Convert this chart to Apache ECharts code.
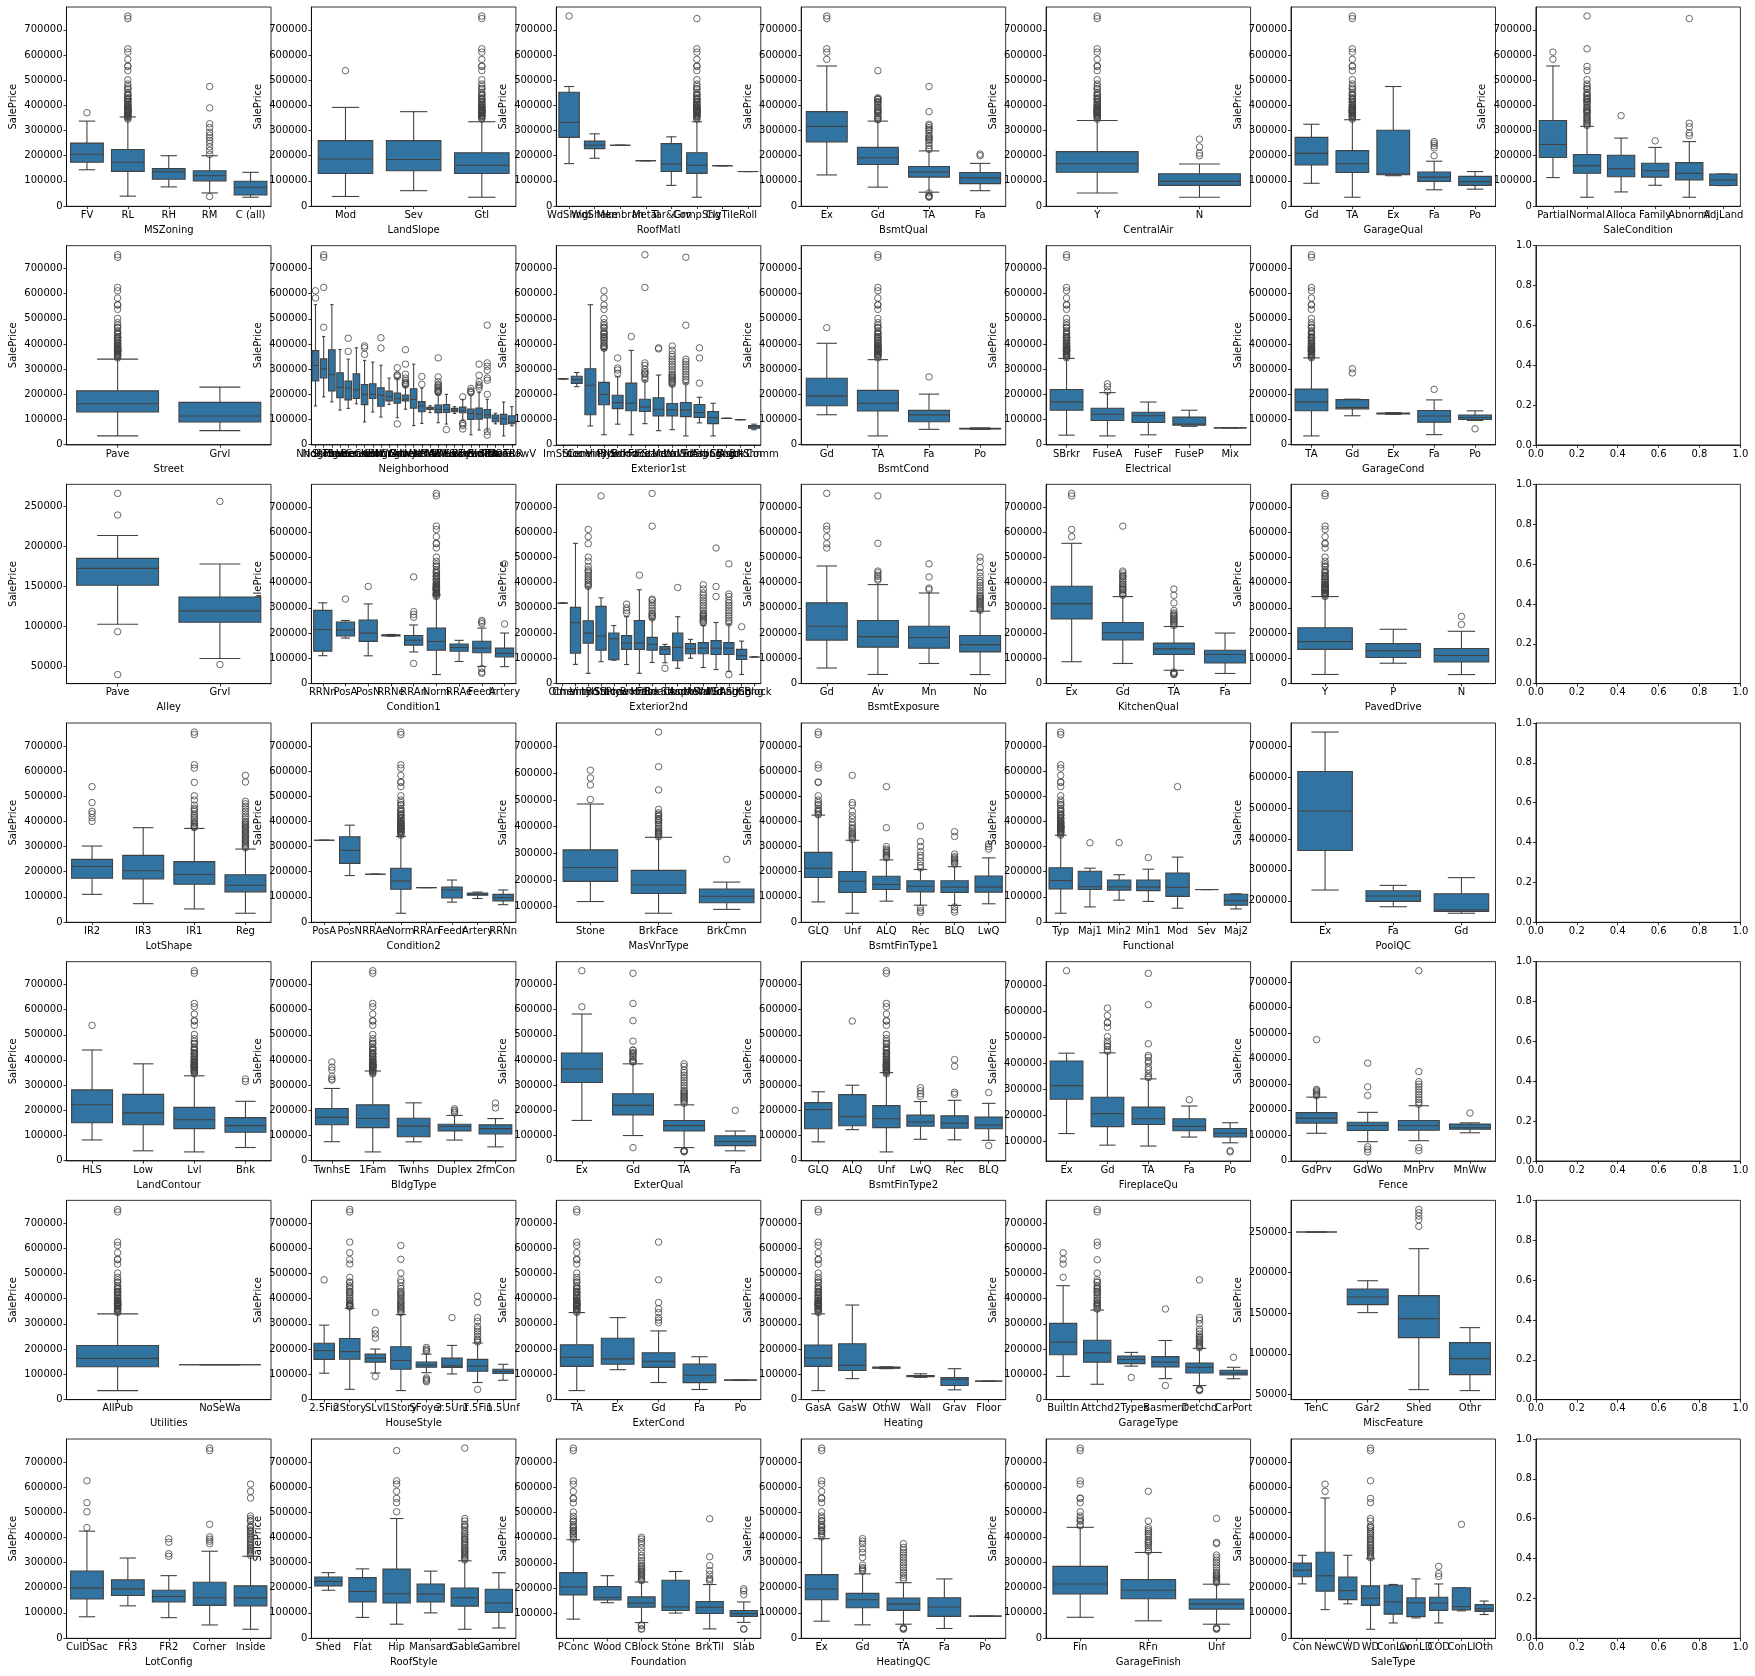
<!DOCTYPE html>
<html><head><meta charset="utf-8">
<script src="https://cdn.jsdelivr.net/npm/echarts@6/dist/echarts.min.js"></script>
<style>html,body{margin:0;padding:0;background:#fff}#c{width:1755px;height:1676px}</style>
</head><body><div id="c"></div>
<script>
// ---------- shared value lists ----------
const TOP_MID = [625000,611657,582933,556581,555000,538000,501837,485000,475000,466500,465000,451950,446261,440000,438780,430000,426000,424870,423000,415298,412500,410000,402861,402000,395192,395000,392500,392000,386250,385000,383970,381000,380000,378500,377500,375000,374000,372500,370967,369900,367294,363000,360000,359100,356383,354000,350000,345000];

// ---------- tick label lists ----------
const TICKS_0_700K = [0,100000,200000,300000,400000,500000,600000,700000];
const TICKS_100K_700K = [100000,200000,300000,400000,500000,600000,700000];
const TICKS_200K_700K = [200000,300000,400000,500000,600000,700000];
const TICKS_50K_250K = [50000,100000,150000,200000,250000];
const TICKS_UNIT = [0,0.2,0.4,0.6,0.8,1.0];

// ---------- row 1 ----------
const MSZoning_cats = ["FV","RL","RH","RM","C (all)"];
const MSZoning_box = [[144152,174000,205950,250000,337500],[39300,137700,174000,224700,354000],[76000,106150,136500,148608,200000],[52000,100000,120500,140000,200000],[34900,43998,74700,98332,133900]];
const MSZoning_out = [[370878],[755000,745000,...TOP_MID],[],[475000,390000,327000,312000,293000,282000,272000,261000,250000,235000,221000,205000,37900],[]];

const LandSlope_cats = ["Mod","Sev","Gtl"];
const LandSlope_box = [[37900,129000,186700,260000,392000],[61000,140000,185000,260000,375000],[34900,129500,161875,212000,335000]];
const LandSlope_out = [[538000],[],[755000,745000,...TOP_MID]];

const RoofMatl_cats = ["WdShngl","WdShake","Membran","Metal","Tar&Grv","CompShg","ClyTile","Roll"];
const RoofMatl_box = [[168500,273000,332500,451950,475000],[190000,228000,242000,258000,287000],[241500,241500,241500,241500,241500],[180000,180000,180000,180000,180000],[82000,137000,167000,248000,274970],[34900,129600,162000,212000,335000],[160000,160000,160000,160000,160000],[137000,137000,137000,137000,137000]];
const RoofMatl_out = [[755000],[],[],[],[],[745000,...TOP_MID],[],[]];

const BsmtQual_cats = ["Ex","Gd","TA","Fa"];
const BsmtQual_box = [[123500,255000,316750,375000,556581],[75000,165000,192070,233000,337500],[55000,115000,135500,157000,219000],[61000,89000,112000,133000,169500]];
const BsmtQual_out = [[582933,611657,625000,745000,755000],[538000,430000,426000,424870,423000,415298,412500,410000,402000,395000,392000,385000,381000,378500,375000,372500,367294,360000,354000,350000,345000,342643],[475000,375000,325000,319000,311500,305000,300000,290000,280000,275000,270000,265000,260000,250000,240000,230000,225000,34900,37900,39300,40000,52000],[200000,206300]];

const CentralAir_cats = ["Y","N"];
const CentralAir_box = [[52000,134000,168000,216000,340000],[34900,82000,98000,128500,167000]];
const CentralAir_out = [[755000,745000,...TOP_MID],[200000,210000,235000,265979]];

const GarageQual_cats = ["Gd","TA","Ex","Fa","Po"];
const GarageQual_box = [[90350,163000,209115,273000,325000],[34900,133000,168000,220000,343000],[120500,124000,127500,301250,475000],[64500,98000,115000,135000,178000],[67000,82000,97000,118000,137000]];
const GarageQual_out = [[],[755000,745000,...TOP_MID],[],[200000,231000,240000,249000,256000],[]];

const SaleCondition_cats = ["Partial","Normal","Alloca","Family","Abnorml","AdjLand"];
const SaleCondition_box = [[113000,193000,244600,339750,556581],[34900,130000,160000,205000,316600],[55993,116183,148145,202043,270000],[82500,115000,140500,170000,233000],[34900,104000,130000,172500,256000],[81000,81750,104000,127125,127500]];
const SaleCondition_out = [[582933,611657],[755000,625000,555000,538000,501837,485000,475000,466500,465000,451950,446261,440000,438780,430000,426000,424870,423000,415298,412500,410000,402000,395000,392000,385000,381000,378500,375000,372500,367294,360000,354000,350000,345000,340000,335000,330000,325000,320000],[359100],[259000],[745000,328900,314813,290000,280000],[]];

// ---------- row 2 ----------
const Street_cats = ["Pave","Grvl"];
const Street_box = [[34900,130000,163000,214000,340000],[55993,90000,114250,168000,228950]];
const Street_out = [[755000,745000,...TOP_MID],[]];

const Neighborhood_cats = ["NridgHt","NoRidge","StoneBr","Timber","Somerst","Veenker","Crawfor","ClearCr","CollgCr","Blmngtn","NWAmes","Gilbert","SawyerW","Mitchel","NPkVill","NAmes","SWISU","Blueste","Sawyer","BrkSide","Edwards","OldTown","BrDale","IDOTRR","MeadowV"];
const Neighborhood_box = [[154000,253000,315000,374000,556581],[190000,265000,301500,341000,430000],[170000,213500,278000,377426,556581],[137500,186900,228475,286000,378500],[144152,177975,225500,252919,340000],[162500,184250,218000,282000,385000],[90350,159250,200624,239000,335000],[130000,183750,200250,242225,328000],[110000,152958,197200,225725,315750],[159895,174000,191000,213490,264561],[107500,165150,182900,205000,263000],[141000,174000,181000,197200,230000],[76000,145500,179900,222500,320000],[84500,131000,153500,171000,225000],[127500,140000,146000,148500,155000],[87500,127500,140000,158000,200000],[82000,128000,139500,160000,200000],[124000,130750,137500,144250,151000],[96500,127250,135000,149462,179900],[39300,100500,124300,141175,196000],[58500,101500,121750,145225,207000],[55000,105900,119000,140000,180000],[83000,91000,106000,118000,125000],[34900,81000,103000,120500,169500],[75000,83500,88000,115000,151400]];
const Neighborhood_out = [[582933,611657],[466500,625000,745000,755000],[],[],[370967,423000],[],[392500,385000,359100],[],[383970,424870],[],[306000,278000,275000,269500,82500],[377500,320000,280000,265000,255000,248000,244000,240000,237000],[],[240000,271000],[],[345000,269500,250000,240000,236000,230000,225000,220000,215000,212000,210000,207000],[60000],[],[190000,62383,76000,82500,87000],[207000,210000,214000,223500],[320000,276000,250000,239000,233000,224000],[475000,325000,311500,295000,265000,256000,200000,52500,37900],[],[],[]];

const Exterior1st_cats = ["ImStucc","Stone","CemntBd","VinylSd","Plywood","BrkFace","HdBoard","Stucco","MetalSd","Wd Sdng","WdShing","AsbShng","CBlock","AsphShn","BrkComm"];
const Exterior1st_box = [[262000,262000,262000,262000,262000],[231000,244000,258500,272000,287000],[75000,119500,236500,302000,556581],[40000,159000,200000,248000,378500],[82000,143750,167450,196750,270000],[40000,135000,165000,245000,375000],[84000,132500,149900,181000,254000],[56000,115000,141000,187000,277000],[60000,115000,139000,164000,236000],[35311,112000,138000,168000,245000],[87000,109000,128000,160000,189000],[35311,84000,108000,132000,165000],[105000,105000,105000,105000,105000],[100000,100000,100000,100000,100000],[60000,65500,71000,76500,82000]];
const Exterior1st_out = [[],[],[],[383970,385000,392000,395000,402000,410000,415298,423000,426000,430000,438780,440000,446261,451950,465000,466500,475000,485000,501837,538000,555000,582933,611657],[345000,305000,297000,284000],[430000],[755000,625000,325000,315000,300000,290000,285000,280000,270000,260000],[381000,385000],[240000,245000,250000,255000,260000,265000,270000,275000,280000,290000,300000,310000,320000,330000,340000,350000,360000,375000,392500],[250000,260000,270000,280000,290000,300000,310000,320000,330000,340000,475000,745000],[245000,345000,385000],[],[],[],[]];

const BsmtCond_cats = ["Gd","TA","Fa","Po"];
const BsmtCond_box = [[119000,155000,193879,264000,403000],[34900,134000,165000,216000,338000],[61000,91000,118500,136500,201000],[61000,62500,64000,65500,67000]];
const BsmtCond_out = [[465000],[755000,745000,...TOP_MID],[269500],[]];

const Electrical_cats = ["SBrkr","FuseA","FuseF","FuseP","Mix"];
const Electrical_box = [[37900,137000,170000,219500,343000],[34900,96000,121250,145000,207000],[39300,88000,115000,129000,169500],[73000,77750,82500,109750,137000],[67000,67000,67000,67000,67000]];
const Electrical_out = [[755000,745000,...TOP_MID],[242000,230000,212000],[],[],[]];

const GarageCond_cats = ["TA","Gd","Ex","Fa","Po"];
const GarageCond_box = [[34900,135000,170000,221000,345000],[115000,142500,148000,179000,181000],[120500,122250,124000,125750,127500],[40000,89500,114000,136000,178000],[96500,100000,108000,118000,134500]];
const GarageCond_out = [[755000,745000,...TOP_MID],[285000,302000],[],[220000],[63000]];

// ---------- row 3 ----------
const Alley_cats = ["Pave","Grvl"];
const Alley_box = [[102776,151500,172500,185000,213500],[60000,105300,119500,136750,178000]];
const Alley_out = [[265979,239000,93500,40000],[256000,52500]];

const Condition1_cats = ["RRNn","PosA","PosN","RRNe","RRAn","Norm","RRAe","Feedr","Artery"];
const Condition1_box = [[110000,128000,214000,290000,320000],[180000,188000,212500,244000,250000],[109500,167000,200000,252000,315750],[187000,188500,190750,193000,194500],[125000,152000,171495,190000,232000],[34900,132000,166500,220000,352000],[87000,127500,142500,156500,171000],[67000,121600,140000,167500,219500],[66500,105000,119550,140000,200000]];
const Condition1_out = [[],[335000],[385000],[],[423000,285000,274000,263000,79000],[755000,745000,...TOP_MID],[],[250000,244000,237000,59000,45000,40000],[475000,236000]];

const Exterior2nd_cats = ["Other","CmentBd","VinylSd","ImStucc","Stone","Plywood","BrkFace","HdBoard","Brk Cmn","Stucco","AsphShn","MetalSd","Wd Shng","Wd Sdng","AsbShng","CBlock"];
const Exterior2nd_box = [[319000,319000,319000,319000,319000],[75500,120000,241000,302000,556581],[40000,160000,200141,249000,383000],[86000,132000,187600,306000,340000],[92000,94000,178000,200000,230000],[75000,135000,160000,190000,265000],[40000,135000,160000,250000,372000],[83000,132000,155000,183000,256000],[82000,115000,136000,146000,155000],[60000,90000,143000,200000,265000],[100000,118000,138000,158000,175000],[63000,118000,140000,162000,230000],[55000,115000,140000,170000,242000],[48000,115000,140000,162000,235000],[35311,95000,110000,135000,168000],[105000,105000,105000,105000,105000]];
const Exterior2nd_out = [[],[],[385000,390000,395000,402000,410000,415000,423000,430000,438780,446261,451950,465000,485000,501837,555000,582933,611657],[745000],[],[280000,290000,300000,315000],[430000],[260000,265000,270000,275000,280000,290000,300000,310000,320000,330000,335000,625000,755000],[60000],[381000],[],[240000,245000,250000,255000,260000,265000,270000,275000,280000,290000,300000,310000,320000,330000,340000,350000,360000,375000,392000],[345000,385000,538000],[240000,250000,260000,270000,280000,290000,300000,310000,320000,330000,345000,355000,475000,35000],[225000],[]];

const BsmtExposure_cats = ["Gd","Av","Mn","No"];
const BsmtExposure_box = [[61000,172000,226975,320000,466500],[35311,144000,185850,250000,392500],[79000,140000,182450,227000,359100],[34900,125000,154000,190000,287000]];
const BsmtExposure_out = [[538000,555000,582933,611657,625000,755000],[410000,415298,424870,430000,440000,446261,556581,745000],[372500,378500,423000,475000],[290000,295000,300000,305000,310000,315000,320000,325000,330000,335000,340000,345000,350000,360000,370000,380000,390000,400000,410000,425000,440000,460000,485000,501837]];

const KitchenQual_cats = ["Ex","Gd","TA","Fa"];
const KitchenQual_box = [[86000,256000,316750,386250,556581],[79000,172500,201400,242000,345000],[52000,115000,137000,160000,226000],[39300,81000,115000,131500,200000]];
const KitchenQual_out = [[582933,611657,745000,755000],[350000,354000,360000,367294,372500,375000,380000,385000,392000,395000,402000,410000,415298,423000,426000,430000,438780,446261,625000],[230000,235000,240000,245000,250000,255000,260000,265000,270000,275000,280000,290000,320000,350000,375000,34900,37900,39300,40000,45000],[]];

const PavedDrive_cats = ["Y","P","N"];
const PavedDrive_box = [[35311,135000,166000,221000,345000],[80000,103000,130000,158000,215000],[34900,85000,111000,138500,207000]];
const PavedDrive_out = [[755000,745000,...TOP_MID],[],[234000,265979]];

// ---------- row 4 ----------
const LotShape_cats = ["IR2","IR3","IR1","Reg"];
const LotShape_box = [[110000,174000,221000,249000,302000],[73000,171000,203570,265000,375000],[52000,150000,189000,240000,372000],[34900,120000,146000,188000,290000]];
const LotShape_out = [[538000,475000,440000,430000,415000,400000],[],[375000,378500,380000,385000,392000,395000,402000,410000,415298,423000,430000,440000,446261,451950,465000,485000,501837,555000,611657,625000,745000,755000],[295000,300000,305000,310000,315000,320000,325000,330000,335000,340000,345000,350000,355000,360000,365000,370000,375000,380000,385000,390000,395000,400000,410000,420000,430000,440000,450000,460000,470000,480000,556581,582933]];

const Condition2_cats = ["PosA","PosN","RRAe","Norm","RRAn","Feedr","Artery","RRNn"];
const Condition2_box = [[325000,325000,325000,325000,325000],[184750,233000,284875,339000,385000],[190000,190000,190000,190000,190000],[34900,130000,163500,214000,340000],[136905,136905,136905,136905,136905],[79000,95750,127500,139500,167000],[93500,106250,110000,115500,119000],[69000,84000,96750,110000,127500]];
const Condition2_out = [[],[],[],[755000,745000,...TOP_MID],[],[],[],[]];

const MasVnrType_cats = ["Stone","BrkFace","BrkCmn"];
const MasVnrType_box = [[119000,194650,246839,312779,485000],[75000,149300,181000,236000,360000],[89500,114250,139000,166000,192000]];
const MasVnrType_out = [[501837,556581,582933,611657],[361919,367294,372500,375000,378500,381000,385000,392000,395000,402000,410000,415298,423000,426000,430000,438780,440000,446261,451950,465000,538000,625000,755000],[277000]];

const BsmtFinType1_cats = ["GLQ","Unf","ALQ","Rec","BLQ","LwQ"];
const BsmtFinType1_box = [[80000,177000,213750,277000,424870],[34900,118000,161750,201000,325000],[83000,129000,149250,182000,247000],[67000,120000,142000,164000,209000],[66000,118000,139100,164000,220000],[72500,119000,139000,183000,255000]];
const BsmtFinType1_out = [[426000,430000,438780,440000,446261,451950,465000,466500,475000,485000,501837,555000,556581,611657,625000,745000,755000],[328000,335000,340000,345000,350000,355000,360000,370000,375000,385000,395000,410000,423000,440000,465000,475000,582933],[255000,260000,265000,270000,275000,280000,285000,290000,299800,375000,538000],[215000,225000,240000,255000,265000,280000,300000,320000,381000,55000,45000,37900],[230000,235000,240000,245000,250000,255000,260000,270000,340000,359100,60000,48000,39300],[290000,300000,310000]];

const Functional_cats = ["Typ","Maj1","Min2","Min1","Mod","Sev","Maj2"];
const Functional_box = [[34900,131000,165000,216000,345000],[60000,129000,140750,202000,214000],[87000,127000,140000,167000,188000],[82000,125000,139000,167000,210000],[55000,102000,137900,195000,258000],[129000,129000,129000,129000,129000],[52000,67000,85000,110500,112000]];
const Functional_out = [[755000,745000,...TOP_MID],[315000],[315500],[256000],[538000],[],[]];

const PoolQC_cats = ["Ex","Fa","Gd"];
const PoolQC_box = [[235000,362500,490000,617500,745000],[181000,198250,215500,232750,250000],[160000,165500,171000,222985,274970]];
const PoolQC_out = [[],[],[]];

// ---------- row 5 ----------
const LandContour_cats = ["HLS","Low","Lvl","Bnk"];
const LandContour_box = [[82500,150750,222250,281347,440000],[39300,143000,190000,263750,385000],[34900,127500,162900,212000,337500],[52500,113000,139400,171250,236000]];
const LandContour_out = [[538000],[],[755000,745000,...TOP_MID],[315000,325000]];

const BldgType_cats = ["TwnhsE","1Fam","Twnhs","Duplex","2fmCon"];
const BldgType_box = [[75500,143187,172200,207375,287090],[34900,131475,167900,222000,356383],[75000,95000,137500,168750,230000],[82000,118500,135980,145000,180000],[55000,106000,127500,142500,167500]];
const BldgType_out = [[320000,325000,335000,360000,372000,392500],[755000,745000,...TOP_MID],[],[190000,194000,200000,206300],[210000,228950]];

const ExterQual_cats = ["Ex","Gd","TA","Fa"];
const ExterQual_box = [[160000,311000,364606,428000,582933],[100000,182000,220000,266000,385000],[52000,118000,139450,159500,222000],[39300,60000,76500,99000,118000]];
const ExterQual_out = [[611657,755000],[392000,394432,395000,402000,410000,415298,423000,426000,430000,438780,440000,475000,556581,625000,745000,52000],[228000,235000,240000,245000,250000,255000,260000,265000,270000,275000,280000,290000,300000,310000,320000,330000,340000,350000,360000,375000,385000,34900,37900,39300,40000],[200000]];

const BsmtFinType2_cats = ["GLQ","ALQ","Unf","LwQ","Rec","BLQ"];
const BsmtFinType2_box = [[75000,127000,203125,231000,274000],[123500,139000,174900,262500,300000],[34900,131500,167000,219000,350000],[85000,137000,154000,181000,235000],[83000,129000,148750,178000,240000],[81000,127000,141500,173000,228000]];
const BsmtFinType2_out = [[],[555000],[755000,745000,...TOP_MID],[256000,266000,278000,290000],[264000,272000,375000,402000],[271000,60000]];

const FireplaceQu_cats = ["Ex","Gd","TA","Fa","Po"];
const FireplaceQu_box = [[130500,262000,314250,409000,438780],[86000,157000,206950,270000,440000],[82500,165000,187500,232000,340000],[117000,141000,158000,187500,236000],[95000,117000,131500,150000,172000]];
const FireplaceQu_out = [[755000],[446261,451950,465000,466500,475000,485000,501837,538000,555000,556581,582933,611657],[345000,350000,360000,375000,385000,402000,410000,423000,430000,475000,625000,745000],[260000],[60000,64500]];

const Fence_cats = ["GdPrv","GdWo","MnPrv","MnWw"];
const Fence_box = [[108000,148000,167500,189000,249700],[75000,119000,138750,151000,190000],[79000,120000,137450,158000,216000],[110000,124000,130000,144000,149000]];
const Fence_out = [[475000,255000,260000,265000,270000,275000,280000],[383000,290000,256000,55000,45000,35000],[745000,350000,310000,300000,290000,280000,270000,260000,250000,240000,230000,222000,52000,40000],[187500]];

// ---------- row 6 ----------
const Utilities_cats = ["AllPub","NoSeWa"];
const Utilities_box = [[34900,129950,163000,214000,340000],[137500,137500,137500,137500,137500]];
const Utilities_out = [[755000,745000,...TOP_MID],[]];

const HouseStyle_cats = ["2.5Fin","2Story","SLvl","1Story","SFoyer","2.5Unf","1.5Fin","1.5Unf"];
const HouseStyle_box = [[104000,159000,194000,223000,295000],[40000,159500,190000,242000,361919],[105000,148000,164500,180000,200000],[34900,120000,154750,209300,337000],[106000,127500,135960,148375,180000],[101000,127000,133900,164000,214500],[67000,112000,132000,159000,224000],[76000,103000,111250,120000,139400]];
const HouseStyle_out = [[475000],[367294,370967,372500,375000,378500,380000,385000,392000,395000,402000,410000,415298,423000,426000,430000,438780,446261,451950,465000,466500,485000,538000,555000,582933,625000,745000,755000],[345000,275000,260000,244000,91000],[345000,350000,355000,360000,365000,370000,375000,380000,385000,390000,395000,402000,410000,415000,420000,425000,430000,440000,450000,465000,475000,501837,556581,611657],[206300,200000,195000,190000,85500,80000,75000,70000],[325000],[228000,235000,240000,250000,260000,270000,280000,290000,310000,325000,385000,410000,39300],[]];

const ExterCond_cats = ["TA","Ex","Gd","Fa","Po"];
const ExterCond_box = [[34900,131000,167370,217000,345000],[118000,139500,161000,243000,325000],[67000,127000,151500,185000,272000],[39300,66500,95750,140000,169500],[76500,76500,76500,76500,76500]];
const ExterCond_out = [[755000,745000,...TOP_MID],[],[305000,315000,325000,345000,360000,385000,475000,625000],[],[]];

const Heating_cats = ["GasA","GasW","OthW","Wall","Grav","Floor"];
const Heating_box = [[34900,131000,164500,216000,340000],[82500,114500,134950,221000,375000],[122000,123500,125750,128000,129500],[87500,90500,91500,95000,101800],[37900,55000,79500,87000,122000],[72500,72500,72500,72500,72500]];
const Heating_out = [[755000,745000,...TOP_MID],[],[],[],[],[]];

const GarageType_cats = ["BuiltIn","Attchd","2Types","Basment","Detchd","CarPort"];
const GarageType_box = [[91000,177500,227500,302000,451950],[60000,148000,185000,235000,355000],[132000,142000,159000,172000,186700],[82500,129000,148000,170000,234000],[55000,105000,127500,144000,202500],[82000,97000,104000,116000,127500]];
const GarageType_out = [[485000,538000,556581,582933],[359100,360000,367294,372500,375000,378500,380000,385000,392000,395000,402000,410000,415298,423000,426000,430000,438780,440000,446261,451950,465000,466500,475000,501837,555000,611657,625000,745000,755000],[87000],[359100,55000],[205000,210000,215000,220000,225000,230000,235000,240000,245000,250000,260000,270000,280000,300000,315000,325000,475000,34900,37900,39300,40000],[167000]];

const MiscFeature_cats = ["TenC","Gar2","Shed","Othr"];
const MiscFeature_box = [[250000,250000,250000,250000,250000],[150700,160500,170000,179800,190000],[55800,119900,143300,171600,229500],[54600,74300,94000,113700,132200]];
const MiscFeature_out = [[],[],[277900,273800,269700,265200,257000],[]];

// ---------- row 7 ----------
const LotConfig_cats = ["CulDSac","FR3","FR2","Corner","Inside"];
const LotConfig_box = [[84500,155000,199262,266500,424870],[128000,169000,195450,231000,318000],[81000,143000,165000,190000,248000],[52000,130000,160000,222000,345000],[34900,128000,159697,207500,325000]];
const LotConfig_out = [[438780,501837,538000,625000],[],[394617,381000,335000,325000],[755000,745000,451950,402000,392500,385000,375000],[328000,335000,340000,345000,350000,355000,360000,367294,372500,378500,385000,392000,395000,402000,410000,415298,423000,426000,430000,438780,440000,446261,465000,466500,475000,485000,556581,582933,611657]];

const RoofStyle_cats = ["Shed","Flat","Hip","Mansard","Gable","Gambrel"];
const RoofStyle_box = [[190000,207500,225000,242500,260000],[82000,143000,185000,240000,274970],[55000,139000,176000,274000,475000],[100000,143000,175000,215000,265979],[34900,127000,160000,199000,307000],[40000,102000,139000,194000,259500]];
const RoofStyle_out = [[],[],[501837,538000,555000,582933,611657,625000,745000],[],[310000,315000,320000,325000,330000,335000,340000,345000,350000,355000,360000,367294,372500,378500,385000,392000,395000,402000,410000,415298,423000,430000,440000,446261,451950,465000,475000,755000],[]];

const Foundation_cats = ["PConc","Wood","CBlock","Stone","BrkTil","Slab"];
const Foundation_box = [[78000,174000,205000,262000,392500],[143000,153500,164000,207000,250000],[64500,125000,141500,166000,225000],[102000,112000,126500,232000,266500],[39300,100500,125250,148000,215000],[65000,89000,100000,112000,146000]];
const Foundation_out = [[395000,402000,410000,415298,423000,426000,430000,438780,440000,446261,451950,465000,466500,475000,485000,501837,538000,555000,556581,582933,611657,625000,745000,755000],[],[230000,235000,240000,245000,250000,255000,260000,265000,270000,275000,280000,285000,290000,300000,310000,320000,330000,345000,360000,375000,385000,395000,402000,37900,40000,52000,55000],[],[228000,235000,240000,255000,270000,290000,325000,475000],[175000,190000,198500,40000,37900]];

const HeatingQC_cats = ["Ex","Gd","TA","Fa","Po"];
const HeatingQC_box = [[67000,152000,194700,252000,395000],[52500,120500,152000,177700,255000],[55000,110000,135000,159000,220000],[37900,86000,123500,160000,235000],[87000,87000,87000,87000,87000]];
const HeatingQC_out = [[402000,410000,415298,423000,426000,430000,438780,440000,446261,451950,465000,466500,475000,485000,501837,538000,555000,556581,582933,611657,625000,745000,755000],[265000,270000,275000,280000,290000,320000,340000,355000,375000,385000,395000],[232000,240000,250000,260000,270000,280000,290000,300000,310000,320000,330000,340000,350000,360000,375000,34900,37900,39300,40000],[],[]];

const GarageFinish_cats = ["Fin","RFn","Unf"];
const GarageFinish_box = [[82500,175000,215000,285000,440000],[68400,156000,190000,232000,340000],[55000,115000,135000,155000,214000]];
const GarageFinish_out = [[446261,451950,465000,466500,475000,485000,501837,538000,555000,556581,611657,625000,745000,755000],[345000,350000,360000,367294,375000,380000,385000,392000,402000,410000,415298,423000,430000,438780,465000,582933],[220000,225000,230000,235000,240000,245000,250000,255000,260000,270000,280000,290000,300000,310000,320000,330000,375000,380000,475000,34900,37900,39300,40000]];

const SaleType_cats = ["Con","New","CWD","WD","ConLw","ConLD","COD","ConLI","Oth"];
const SaleType_box = [[215200,243625,269600,297600,328900],[113000,186500,247453,341000,556581],[136000,152500,188750,242500,328900],[34900,130000,158000,207500,315000],[60000,95000,144000,210000,213000],[79900,85000,140000,160000,235000],[60000,110000,139000,162000,215000],[108000,112000,125000,200000,200000],[93500,106000,116050,133000,147000]];
const SaleType_out = [[],[582933,611657],[],[319000,325000,330000,335000,340000,345000,350000,355000,360000,367294,372500,378500,385000,392000,395000,402000,410000,415298,423000,430000,438780,440000,446261,465000,475000,538000,555000,625000,745000,755000],[],[],[245000,256000,285000],[451950],[]];

// ---------- panel layout (row-major) ----------
const LAYOUT = [
  ["MSZoning","LandSlope","RoofMatl","BsmtQual","CentralAir","GarageQual","SaleCondition"],
  ["Street","Neighborhood","Exterior1st","BsmtCond","Electrical","GarageCond",null],
  ["Alley","Condition1","Exterior2nd","BsmtExposure","KitchenQual","PavedDrive",null],
  ["LotShape","Condition2","MasVnrType","BsmtFinType1","Functional","PoolQC",null],
  ["LandContour","BldgType","ExterQual","BsmtFinType2","FireplaceQu","Fence",null],
  ["Utilities","HouseStyle","ExterCond","Heating","GarageType","MiscFeature",null],
  ["LotConfig","RoofStyle","Foundation","HeatingQC","GarageFinish","SaleType",null]
];

const FEATURES = {
  MSZoning:[MSZoning_cats,MSZoning_box,MSZoning_out,TICKS_0_700K],
  LandSlope:[LandSlope_cats,LandSlope_box,LandSlope_out,TICKS_0_700K],
  RoofMatl:[RoofMatl_cats,RoofMatl_box,RoofMatl_out,TICKS_0_700K],
  BsmtQual:[BsmtQual_cats,BsmtQual_box,BsmtQual_out,TICKS_0_700K],
  CentralAir:[CentralAir_cats,CentralAir_box,CentralAir_out,TICKS_0_700K],
  GarageQual:[GarageQual_cats,GarageQual_box,GarageQual_out,TICKS_0_700K],
  SaleCondition:[SaleCondition_cats,SaleCondition_box,SaleCondition_out,TICKS_0_700K],
  Street:[Street_cats,Street_box,Street_out,TICKS_0_700K],
  Neighborhood:[Neighborhood_cats,Neighborhood_box,Neighborhood_out,TICKS_0_700K],
  Exterior1st:[Exterior1st_cats,Exterior1st_box,Exterior1st_out,TICKS_0_700K],
  BsmtCond:[BsmtCond_cats,BsmtCond_box,BsmtCond_out,TICKS_0_700K],
  Electrical:[Electrical_cats,Electrical_box,Electrical_out,TICKS_0_700K],
  GarageCond:[GarageCond_cats,GarageCond_box,GarageCond_out,TICKS_0_700K],
  Alley:[Alley_cats,Alley_box,Alley_out,TICKS_50K_250K],
  Condition1:[Condition1_cats,Condition1_box,Condition1_out,TICKS_0_700K],
  Exterior2nd:[Exterior2nd_cats,Exterior2nd_box,Exterior2nd_out,TICKS_0_700K],
  BsmtExposure:[BsmtExposure_cats,BsmtExposure_box,BsmtExposure_out,TICKS_0_700K],
  KitchenQual:[KitchenQual_cats,KitchenQual_box,KitchenQual_out,TICKS_0_700K],
  PavedDrive:[PavedDrive_cats,PavedDrive_box,PavedDrive_out,TICKS_0_700K],
  LotShape:[LotShape_cats,LotShape_box,LotShape_out,TICKS_0_700K],
  Condition2:[Condition2_cats,Condition2_box,Condition2_out,TICKS_0_700K],
  MasVnrType:[MasVnrType_cats,MasVnrType_box,MasVnrType_out,TICKS_100K_700K],
  BsmtFinType1:[BsmtFinType1_cats,BsmtFinType1_box,BsmtFinType1_out,TICKS_0_700K],
  Functional:[Functional_cats,Functional_box,Functional_out,TICKS_0_700K],
  PoolQC:[PoolQC_cats,PoolQC_box,PoolQC_out,TICKS_200K_700K],
  LandContour:[LandContour_cats,LandContour_box,LandContour_out,TICKS_0_700K],
  BldgType:[BldgType_cats,BldgType_box,BldgType_out,TICKS_0_700K],
  ExterQual:[ExterQual_cats,ExterQual_box,ExterQual_out,TICKS_0_700K],
  BsmtFinType2:[BsmtFinType2_cats,BsmtFinType2_box,BsmtFinType2_out,TICKS_0_700K],
  FireplaceQu:[FireplaceQu_cats,FireplaceQu_box,FireplaceQu_out,TICKS_100K_700K],
  Fence:[Fence_cats,Fence_box,Fence_out,TICKS_0_700K],
  Utilities:[Utilities_cats,Utilities_box,Utilities_out,TICKS_0_700K],
  HouseStyle:[HouseStyle_cats,HouseStyle_box,HouseStyle_out,TICKS_0_700K],
  ExterCond:[ExterCond_cats,ExterCond_box,ExterCond_out,TICKS_0_700K],
  Heating:[Heating_cats,Heating_box,Heating_out,TICKS_0_700K],
  GarageType:[GarageType_cats,GarageType_box,GarageType_out,TICKS_0_700K],
  MiscFeature:[MiscFeature_cats,MiscFeature_box,MiscFeature_out,TICKS_50K_250K],
  LotConfig:[LotConfig_cats,LotConfig_box,LotConfig_out,TICKS_0_700K],
  RoofStyle:[RoofStyle_cats,RoofStyle_box,RoofStyle_out,TICKS_0_700K],
  Foundation:[Foundation_cats,Foundation_box,Foundation_out,TICKS_0_700K],
  HeatingQC:[HeatingQC_cats,HeatingQC_box,HeatingQC_out,TICKS_0_700K],
  GarageFinish:[GarageFinish_cats,GarageFinish_box,GarageFinish_out,TICKS_0_700K],
  SaleType:[SaleType_cats,SaleType_box,SaleType_out,TICKS_0_700K]
};

// ---------- style ----------
const FONT = 'DejaVu Sans';
const BOX_FILL = '#3274a1';
const LINE = '#424242';
const LW = 1.1;
const X0 = 66.5, DX = 244.9, W = 204.5;
const Y0 = 7, DY = 238.67, H = 199.3;

const txt = {fontFamily: FONT, fontSize: 10, color: '#000'};

function renderBox(params, api) {
  const i = api.value(0);
  const lo = api.coord([i, api.value(1)]);
  const q1 = api.coord([i, api.value(2)]);
  const md = api.coord([i, api.value(3)]);
  const q3 = api.coord([i, api.value(4)]);
  const hi = api.coord([i, api.value(5)]);
  const band = api.size([1, 0])[0];
  const cx = lo[0];
  const bw = band * 0.8, cw = band * 0.4;
  const ls = {stroke: LINE, lineWidth: LW, fill: null};
  return {type: 'group', children: [
    {type: 'line', shape: {x1: cx, y1: q3[1], x2: cx, y2: hi[1]}, style: ls},
    {type: 'line', shape: {x1: cx, y1: q1[1], x2: cx, y2: lo[1]}, style: ls},
    {type: 'line', shape: {x1: cx - cw / 2, y1: hi[1], x2: cx + cw / 2, y2: hi[1]}, style: ls},
    {type: 'line', shape: {x1: cx - cw / 2, y1: lo[1], x2: cx + cw / 2, y2: lo[1]}, style: ls},
    {type: 'rect', shape: {x: cx - bw / 2, y: q3[1], width: bw, height: q1[1] - q3[1]}, style: {fill: BOX_FILL, stroke: LINE, lineWidth: LW}},
    {type: 'line', shape: {x1: cx - bw / 2, y1: md[1], x2: cx + bw / 2, y2: md[1]}, style: ls}
  ]};
}

const grids = [], xAxes = [], yAxes = [], series = [];
LAYOUT.forEach((row, r) => row.forEach((name, c) => {
  const gi = grids.length;
  grids.push({left: X0 + c * DX, top: Y0 + r * DY, width: W, height: H, show: true,
    borderColor: '#000', borderWidth: 0.8, backgroundColor: 'transparent', containLabel: false});
  const tickStyle = {show: true, length: 3, inside: false, lineStyle: {color: '#000', width: 0.8}};
  if (!name) {
    const fmt = v => v.toFixed(1);
    xAxes.push({gridIndex: gi, type: 'value', min: 0, max: 1,
      axisLine: {show: true, lineStyle: {color: '#000', width: 0.8}},
      axisTick: Object.assign({customValues: TICKS_UNIT}, tickStyle),
      axisLabel: Object.assign({customValues: TICKS_UNIT, formatter: fmt, margin: 4}, txt),
      splitLine: {show: false}});
    yAxes.push({gridIndex: gi, type: 'value', min: 0, max: 1,
      axisLine: {show: true, lineStyle: {color: '#000', width: 0.8}},
      axisTick: Object.assign({customValues: TICKS_UNIT}, tickStyle),
      axisLabel: Object.assign({customValues: TICKS_UNIT, formatter: fmt, margin: 4}, txt),
      splitLine: {show: false}});
    series.push({type: 'scatter', xAxisIndex: gi, yAxisIndex: gi, data: []});
    return;
  }
  const [cats, box, out, ticks] = FEATURES[name];
  let lo = Infinity, hi = -Infinity;
  box.forEach(b => { lo = Math.min(lo, b[0]); hi = Math.max(hi, b[4]); });
  out.forEach(o => o.forEach(v => { lo = Math.min(lo, v); hi = Math.max(hi, v); }));
  const pad = (hi - lo) * 0.05;
  const ymin = lo - pad, ymax = hi + pad;
  const tv = ticks.filter(t => t >= ymin && t <= ymax);
  xAxes.push({gridIndex: gi, type: 'category', data: cats, boundaryGap: true,
    axisLine: {show: true, lineStyle: {color: '#000', width: 0.8}},
    axisTick: Object.assign({alignWithLabel: true, interval: 0}, tickStyle),
    axisLabel: Object.assign({interval: 0, margin: 4, hideOverlap: false}, txt),
    splitLine: {show: false},
    name: name, nameLocation: 'middle', nameGap: 19, nameTextStyle: txt});
  yAxes.push({gridIndex: gi, type: 'value', min: ymin, max: ymax,
    axisLine: {show: true, lineStyle: {color: '#000', width: 0.8}},
    axisTick: Object.assign({customValues: tv}, tickStyle),
    axisLabel: Object.assign({customValues: tv, formatter: v => String(Math.round(v)), margin: 4}, txt),
    splitLine: {show: false},
    name: 'SalePrice', nameLocation: 'middle', nameRotate: 90, nameGap: 48, nameTextStyle: txt});
  series.push({type: 'custom', xAxisIndex: gi, yAxisIndex: gi, renderItem: renderBox,
    encode: {x: 0, y: [1, 2, 3, 4, 5]}, z: 2,
    data: box.map((b, i) => [i, b[0], b[1], b[2], b[3], b[4]])});
  const pts = [];
  out.forEach((o, i) => o.forEach(v => pts.push([i, v])));
  series.push({type: 'scatter', xAxisIndex: gi, yAxisIndex: gi, z: 3, symbol: 'circle', symbolSize: 6.5,
    itemStyle: {color: 'rgba(0,0,0,0)', borderColor: LINE, borderWidth: 1}, data: pts, silent: true});
}));

const chart = echarts.init(document.getElementById('c'), null, {renderer: 'canvas', width: 1755, height: 1676});
chart.setOption({animation: false, backgroundColor: '#fff', textStyle: {fontFamily: FONT},
  grid: grids, xAxis: xAxes, yAxis: yAxes, series: series});
</script></body></html>
